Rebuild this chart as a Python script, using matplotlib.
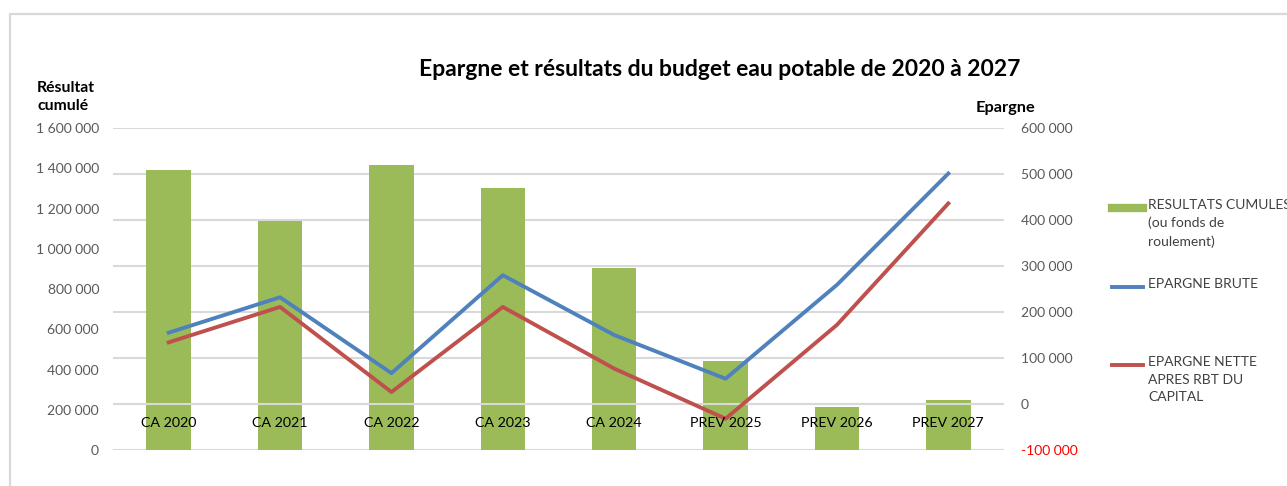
import matplotlib.pyplot as plt
from matplotlib.lines import Line2D
from matplotlib.patches import Rectangle
from matplotlib.ticker import FuncFormatter

plt.rcParams['font.family'] = ['Lato', 'DejaVu Sans']

# data
categories = ['CA 2020', 'CA 2021', 'CA 2022', 'CA 2023', 'CA 2024',
              'PREV 2025', 'PREV 2026', 'PREV 2027']
resultats_cumules = [1390000, 1138000, 1418000, 1302000, 903000, 442000, 212000, 250000]
epargne_brute = [155000, 232000, 67000, 280000, 150000, 55000, 259000, 501000]
epargne_nette = [134000, 211000, 26000, 211000, 77000, -32000, 172000, 436000]

left_ticks = list(range(0, 1600001, 200000))
right_ticks = list(range(-100000, 600001, 100000))

GREEN = '#9BBB59'
BLUE = '#4F81BD'
RED = '#C0504D'
GRID = '#d9d9d9'
TXT = '#595959'

W, H = 1287, 486
fig = plt.figure(figsize=(W / 100, H / 100), dpi=100)
fig.patch.set_facecolor('white')

# outer chart frame (cropped on the right / bottom)
fig.add_artist(Rectangle((10 / W, -0.1), 1.2, 1 - 14 / H + 0.1,
                         transform=fig.transFigure, fill=False,
                         edgecolor=GRID, lw=1.6))

rect = [113 / W, 1 - 450 / H, (1004 - 113) / W, (450 - 128) / H]
ax = fig.add_axes(rect)          # bars, left scale
axr = ax.twinx()                 # grid + right labels (behind)
axl = ax.twinx()                 # lines (front)

axr.set_zorder(0)
ax.set_zorder(1)
axl.set_zorder(2)
ax.patch.set_visible(False)
axl.patch.set_visible(False)
axr.patch.set_visible(False)

x = list(range(len(categories)))

ax.bar(x, resultats_cumules, width=0.4, color=GREEN, zorder=2)
ax.set_ylim(0, 1600000)
ax.set_xlim(-0.5, len(categories) - 0.5)
ax.set_yticks(left_ticks)
fmt = FuncFormatter(lambda v, p: f'{int(v):,}'.replace(',', ' '))
ax.yaxis.set_major_formatter(fmt)
ax.tick_params(axis='y', length=0, pad=10, labelsize=10, labelcolor=TXT)
ax.set_xticks([])
for s in ax.spines.values():
    s.set_visible(False)

axr.set_ylim(-100000, 600000)
axr.set_yticks(right_ticks)
axr.yaxis.set_major_formatter(fmt)
axr.tick_params(axis='y', length=0, pad=12, labelsize=10, labelcolor=TXT)
for lab in axr.get_yticklabels():
    lab.set_horizontalalignment('left')
axr.yaxis.grid(True, color=GRID, lw=1.5)
for t, lab in zip(right_ticks, axr.get_yticklabels()):
    if t < 0:
        lab.set_color('red')
for s in axr.spines.values():
    s.set_visible(False)

axl.set_ylim(-100000, 600000)
axl.set_yticks([])
axl.axhline(0, color=GRID, lw=1.5, zorder=1)
axl.plot(x, epargne_brute, color=BLUE, lw=2.8, zorder=3)
axl.plot(x, epargne_nette, color=RED, lw=2.8, zorder=3)
for s in axl.spines.values():
    s.set_visible(False)
for i, c in enumerate(categories):
    axl.annotate(c, (i, 0), xytext=(0, -14), textcoords='offset points',
                 ha='center', va='center', fontsize=10.3, color='black', zorder=4)

fig.text(720 / W, 1 - 70 / H, 'Epargne et résultats du budget eau potable de 2020 à 2027',
         ha='center', va='center', fontsize=16.5, fontweight='bold', color='black')
fig.text(37 / W, 1 - 81 / H, 'Résultat\ncumulé', ha='left', va='top',
         fontsize=11.3, fontweight='bold', color='black', linespacing=1.35)
fig.text(976 / W, 1 - 108 / H, 'Epargne', ha='left', va='center',
         fontsize=11.8, fontweight='bold', color='black')

# legend
def key(y, color, lw):
    fig.add_artist(Line2D([1112 / W, 1143 / W], [1 - y / H, 1 - y / H],
                          transform=fig.transFigure, color=color, lw=lw))

key(208, GREEN, 6)
key(287, BLUE, 2.8)
key(365, RED, 2.8)
leg_txt = [(199, 'RESULTATS CUMULES\n(ou fonds de\nroulement)'),
           (278, 'EPARGNE BRUTE'),
           (356, 'EPARGNE NETTE\nAPRES RBT DU\nCAPITAL')]
for y, t in leg_txt:
    fig.text(1148 / W, 1 - y / H, t, ha='left', va='top', fontsize=10,
             color='#404040', linespacing=1.55)

fig.savefig('out.png', dpi=100, facecolor='white')
